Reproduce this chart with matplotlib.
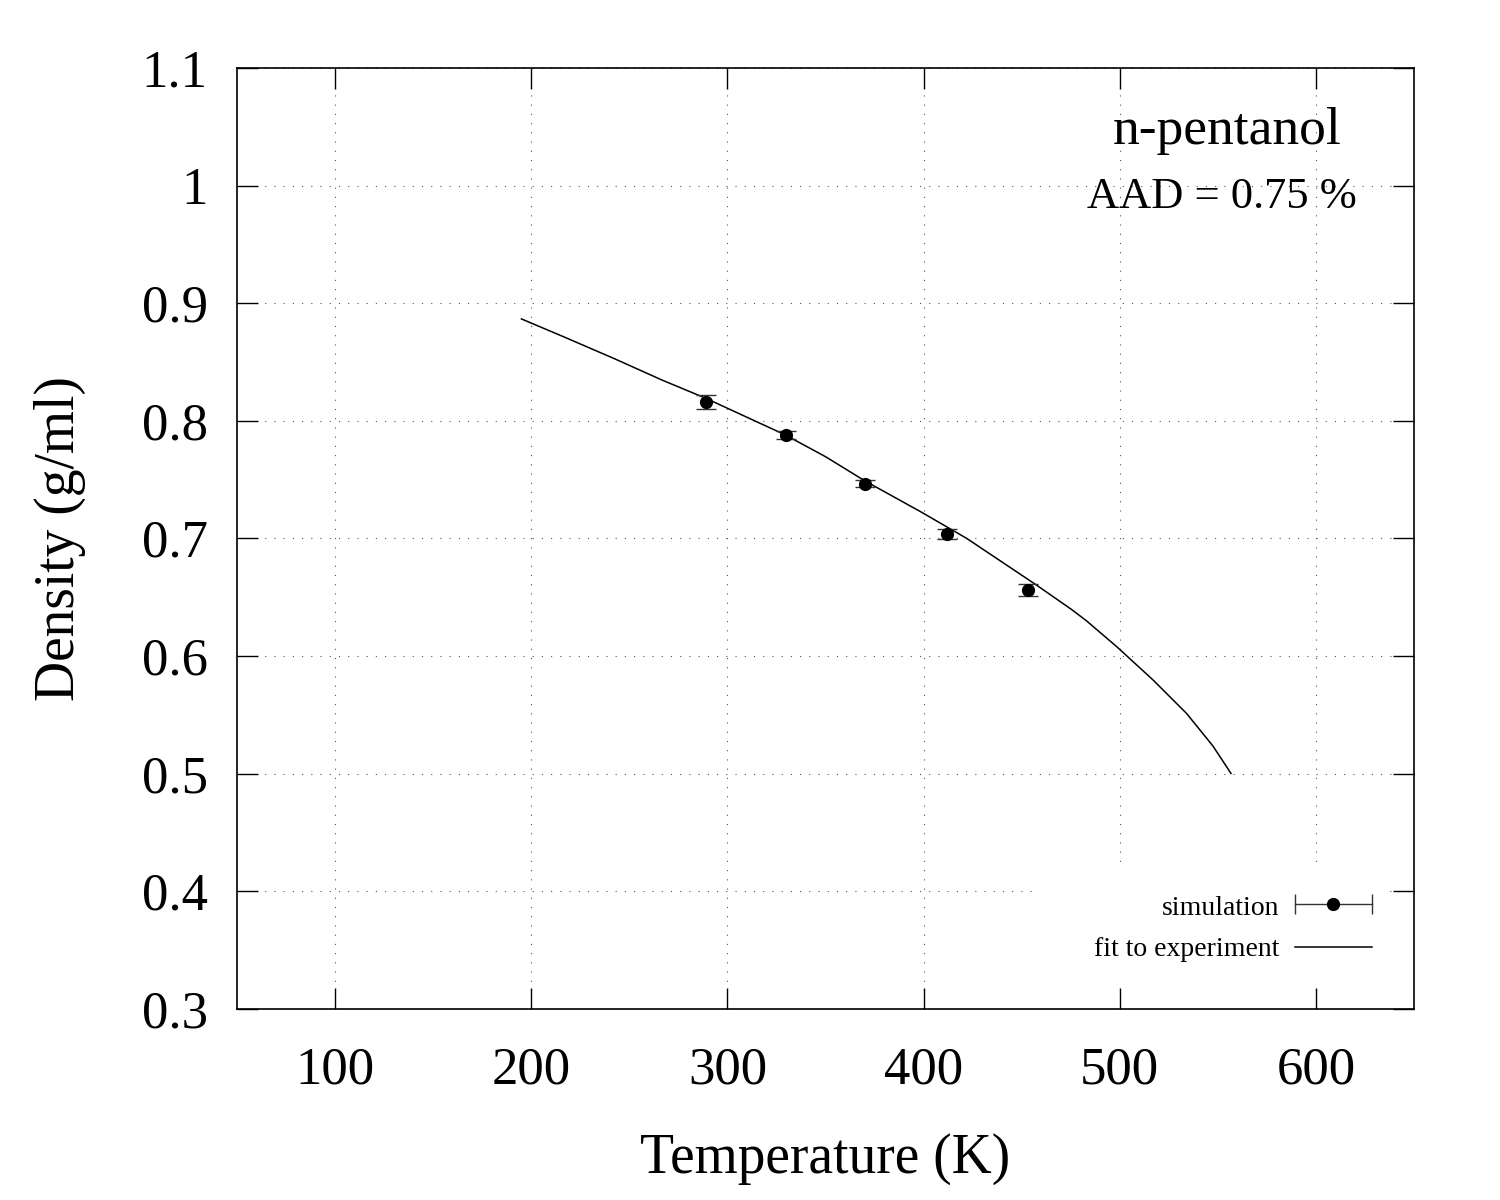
import numpy as np
import matplotlib
matplotlib.use("Agg")
import matplotlib.pyplot as plt
from matplotlib.patches import Rectangle

plt.rcParams["font.family"] = ["Liberation Serif", "DejaVu Serif"]

# simulation points (T in K, density in g/ml)
sim_T = [289, 330, 370, 412, 453]
sim_rho = [0.816, 0.788, 0.7465, 0.7037, 0.656]
sim_err = [0.0062, 0.0031, 0.003, 0.004, 0.005]

# fit to experiment
fit_T = [195, 216, 242, 267, 288.5, 329.5, 350, 370, 398.5, 422, 457.5,
         475.5, 483, 498.5, 517, 534, 547.5, 556.7]
fit_rho = [0.8866, 0.8718, 0.8531, 0.8344, 0.8195, 0.788, 0.7695, 0.749,
           0.7227, 0.700, 0.6604, 0.6395, 0.630, 0.6079, 0.5796, 0.5513,
           0.5235, 0.5002]

x_ticks = [100, 200, 300, 400, 500, 600]
y_ticks = [0.3, 0.4, 0.5, 0.6, 0.7, 0.8, 0.9, 1.0, 1.1]
y_labels = ["0.3", "0.4", "0.5", "0.6", "0.7", "0.8", "0.9", "1", "1.1"]

fig = plt.figure(figsize=(15, 12), dpi=100)
ax = fig.add_axes([0.158, 0.1592, 0.7847, 0.7842])

ax.plot(fit_T, fit_rho, color="black", lw=1.1, zorder=3)
ax.errorbar(sim_T, sim_rho, yerr=sim_err, fmt="o", color="black", ms=8.5,
            ecolor="#333333", elinewidth=1.0, capsize=7.5, capthick=1.0, zorder=4)

ax.set_xlim(50, 650)
ax.set_ylim(0.3, 1.1)
ax.set_xticks(x_ticks)
ax.set_yticks(y_ticks)
ax.set_yticklabels(y_labels)
ax.tick_params(direction="in", length=15, width=1.0, top=True, right=True,
               labelsize=38)
ax.tick_params(axis="x", pad=27)
ax.tick_params(axis="y", pad=21)
for s in ax.spines.values():
    s.set_linewidth(1.2)

ax.grid(True, color="#555555", lw=0.8, linestyle=(0, (1, 7.3)))

ax.set_xlabel("Temperature (K)", fontsize=40, labelpad=28)
ax.set_ylabel("Density (g/ml)", fontsize=40, labelpad=40)

# annotation
ax.text(0.841, 0.919, "n-pentanol", transform=ax.transAxes, fontsize=38.5,
        ha="center", va="baseline")
ax.text(0.837, 0.851, "AAD = 0.75 %", transform=ax.transAxes, fontsize=32,
        ha="center", va="baseline")

# key (gnuplot style), white box hides the grid behind it
ax.add_patch(Rectangle((0.677, 0.026), 0.3, 0.128, transform=ax.transAxes,
                       facecolor="white", edgecolor="none", zorder=2))
ax.text(0.886, 0.1, "simulation", transform=ax.transAxes, fontsize=20,
        ha="right", va="baseline", zorder=5)
ax.text(0.886, 0.056, "fit to experiment", transform=ax.transAxes, fontsize=20,
        ha="right", va="baseline", zorder=5)
ax.plot([0.899, 0.964], [0.112, 0.112], transform=ax.transAxes, color="#333333",
        lw=1.0, marker="|", ms=15, mew=1.0, zorder=5)
ax.plot([0.931], [0.112], transform=ax.transAxes, color="black", marker="o",
        ms=8.5, zorder=6)
ax.plot([0.899, 0.964], [0.066, 0.066], transform=ax.transAxes, color="black",
        lw=1.1, zorder=5)

fig.savefig("out.png", dpi=100)
